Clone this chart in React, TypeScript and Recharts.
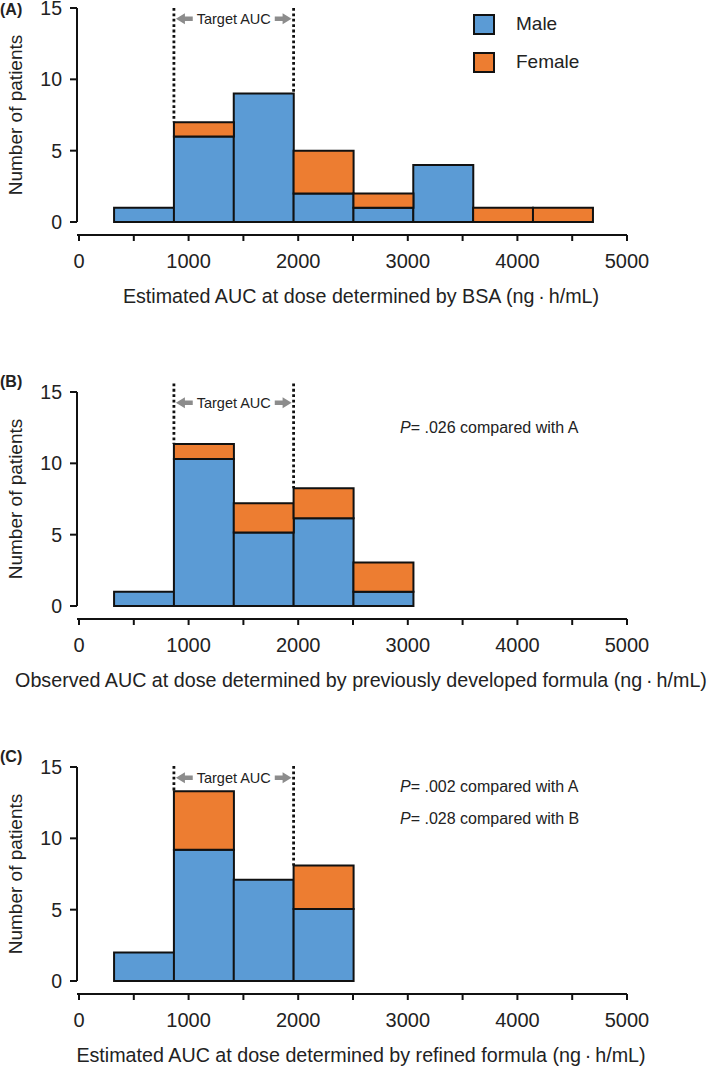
import React from 'react';
import { ComposedChart, Bar, XAxis, YAxis, ReferenceLine, Legend } from 'recharts';

const FONT = '"Liberation Sans", Arial, Helvetica, sans-serif';
const MALE_COLOR = '#5b9bd5';
const FEMALE_COLOR = '#ed7d31';
const INK = '#222';

// histogram bin centres (ng·h/mL), bin width ~546
const binCentersA = [593, 1139, 1685, 2231, 2777, 3323, 3869, 4415];
const maleA = [1, 6, 9, 2, 1, 4, 0, 0];
const femaleA = [0, 1, 0, 3, 1, 0, 1, 1];

const binCentersB = [593, 1139, 1685, 2231, 2777];
const maleB = [1, 10.3, 5.15, 6.15, 1];
const femaleB = [0, 1.05, 2.05, 2.1, 2.05];

const binCentersC = [593, 1139, 1685, 2231];
const maleC = [2, 9.2, 7.1, 5.05];
const femaleC = [0, 4.1, 0, 3.05];

const targetAuc = [866, 1958];
const targetLabelY = 14.25;
const xTicks = [0, 500, 1000, 1500, 2000, 2500, 3000, 3500, 4000, 4500, 5000];
const yTicks = [0, 5, 10, 15];
const legendOrder = ['Male', 'Female'];

const titleA = 'Estimated AUC at dose determined by BSA (ng\u2009·\u2009h/mL)';
const titleB = 'Observed AUC at dose determined by previously developed formula (ng\u2009·\u2009h/mL)';
const titleC = 'Estimated AUC at dose determined by refined formula (ng\u2009·\u2009h/mL)';

function TargetArrows(props: any) {
  const { x1, x2, y1 } = props;
  const mid = (x1 + x2) / 2;
  const y = y1;
  const l = x1 + 2;
  const r = x2 - 2;
  const lEnd = mid - 41;
  const rStart = mid + 41;
  return (
    <g>
      <path
        d={`M${l},${y} L${l + 9},${y - 5.5} L${l + 9},${y - 2.2} L${lEnd},${y - 2.2} L${lEnd},${y + 2.2} L${l + 9},${y + 2.2} L${l + 9},${y + 5.5} Z`}
        fill="#8c8c8c"
      />
      <path
        d={`M${r},${y} L${r - 9},${y - 5.5} L${r - 9},${y - 2.2} L${rStart},${y - 2.2} L${rStart},${y + 2.2} L${r - 9},${y + 2.2} L${r - 9},${y + 5.5} Z`}
        fill="#8c8c8c"
      />
      <text x={mid} y={y} dy="0.35em" textAnchor="middle" fontSize={14.5} fontFamily={FONT} fill={INK}>
        Target AUC
      </text>
    </g>
  );
}

function renderLegend(props: any) {
  const colors: Record<string, string> = { Male: MALE_COLOR, Female: FEMALE_COLOR };
  const items = [...(props.payload || [])].sort(
    (a: any, b: any) => legendOrder.indexOf(a.value) - legendOrder.indexOf(b.value)
  );
  return (
    <div style={{ fontFamily: FONT }}>
      {items.map((item: any) => (
        <div key={item.value} style={{ display: 'flex', alignItems: 'center', height: 38 }}>
          <span
            style={{
              display: 'inline-block',
              width: 18,
              height: 17,
              background: colors[item.value] || item.color,
              border: '2px solid #111',
              marginRight: 21,
            }}
          />
          <span style={{ fontSize: 19, color: INK }}>{item.value}</span>
        </div>
      ))}
    </div>
  );
}

interface PanelProps {
  tag: string;
  top: number;
  centers: number[];
  male: number[];
  female: number[];
  title: string;
  lineTop: number;
  notes?: string[];
  notesTop?: number;
  showLegend?: boolean;
}

function Panel({ tag, top, centers, male, female, title, lineTop, notes, notesTop, showLegend }: PanelProps) {
  const data = centers.map((x, i) => ({ x, male: male[i], female: female[i] }));
  // dotted target lines run down to the taller neighbouring bar
  const lineEnd = (t: number) =>
    Math.max(0, ...data.filter(d => Math.abs(d.x - t) < 300).map(d => d.male + d.female));

  return (
    <div style={{ position: 'absolute', left: 0, top, width: 709, height: 304 }}>
      <ComposedChart
        width={709}
        height={304}
        data={data}
        margin={{ top: 7, right: 82, bottom: 0, left: 0 }}
        barCategoryGap={0}
        barGap={0}
      >
        <XAxis
          dataKey="x"
          type="number"
          domain={[0, 5000]}
          ticks={xTicks}
          interval={0}
          padding={{ left: 2, right: 0 }}
          height={70}
          tickSize={6}
          tickMargin={13}
          axisLine={{ stroke: '#111', strokeWidth: 2 }}
          tickLine={{ stroke: '#111', strokeWidth: 2 }}
          tick={{ fontSize: 20, fill: INK, fontFamily: FONT }}
          tickFormatter={(v: number) => (v % 1000 === 0 ? String(v) : '')}
          label={{
            content: (p: any) => (
              <text
                x={361}
                y={(p.viewBox?.y ?? 234) + 61}
                dy="0.35em"
                textAnchor="middle"
                fontSize={19.7}
                fontFamily={FONT}
                fill={INK}
              >
                {title}
              </text>
            ),
          }}
        />
        <YAxis
          type="number"
          domain={[0, 15]}
          ticks={yTicks}
          interval={0}
          width={77}
          padding={{ top: 0, bottom: 13 }}
          tickSize={7}
          tickMargin={8}
          axisLine={{ stroke: '#111', strokeWidth: 2, strokeDasharray: '214 60' }}
          tickLine={{ stroke: '#111', strokeWidth: 2 }}
          tick={{ fontSize: 19.5, fill: INK, fontFamily: FONT }}
          label={{
            content: () => (
              <text
                x={15}
                y={114}
                dy="0.35em"
                transform="rotate(-90 15 114)"
                textAnchor="middle"
                fontSize={19}
                fontFamily={FONT}
                fill={INK}
              >
                Number of patients
              </text>
            ),
          }}
        />
        <Bar dataKey="male" name="Male" stackId="sex" fill={MALE_COLOR} stroke="#111" strokeWidth={2} isAnimationActive={false} />
        <Bar dataKey="female" name="Female" stackId="sex" fill={FEMALE_COLOR} stroke="#111" strokeWidth={2} isAnimationActive={false} />
        {targetAuc.map(t => (
          <ReferenceLine
            key={t}
            segment={[{ x: t, y: lineTop }, { x: t, y: lineEnd(t) }]}
            stroke="#111"
            strokeWidth={2.8}
            strokeDasharray="2.8 2.6"
            ifOverflow="visible"
          />
        ))}
        <ReferenceLine
          segment={[{ x: targetAuc[0], y: targetLabelY }, { x: targetAuc[1], y: targetLabelY }]}
          shape={TargetArrows}
          ifOverflow="visible"
        />
        {showLegend && (
          <Legend
            layout="vertical"
            align="center"
            verticalAlign="middle"
            content={renderLegend}
            wrapperStyle={{ position: 'absolute', left: 473, top: 4, width: 'auto' }}
          />
        )}
      </ComposedChart>
      <div
        style={{ position: 'absolute', left: 0, top: top < 5 ? 0 : -12, fontFamily: FONT, fontWeight: 'bold', fontSize: 16, color: INK }}
      >
        {tag}
      </div>
      {notes &&
        notes.map((n, i) => (
          <div
            key={n}
            style={{
              position: 'absolute',
              left: 400,
              top: (notesTop ?? 34) + i * 32,
              fontFamily: FONT,
              fontSize: 16,
              lineHeight: '18px',
              color: INK,
              whiteSpace: 'nowrap',
            }}
          >
            <i>P</i>= {n}
          </div>
        ))}
    </div>
  );
}

export default function App() {
  return (
    <div style={{ position: 'absolute', left: 0, top: 0, width: 709, height: 1066, background: '#fff' }}>
      <style>{'.recharts-surface{overflow:visible}'}</style>
      <Panel tag="(A)" top={1} centers={binCentersA} male={maleA} female={femaleA} title={titleA} lineTop={15.0} showLegend />
      <Panel
        tag="(B)"
        top={385}
        centers={binCentersB}
        male={maleB}
        female={femaleB}
        title={titleB}
        lineTop={15.6}
        notes={['.026 compared with A']}
        notesTop={34}
      />
      <Panel
        tag="(C)"
        top={760}
        centers={binCentersC}
        male={maleC}
        female={femaleC}
        title={titleC}
        lineTop={15.07}
        notes={['.002 compared with A', '.028 compared with B']}
        notesTop={18}
      />
    </div>
  );
}
